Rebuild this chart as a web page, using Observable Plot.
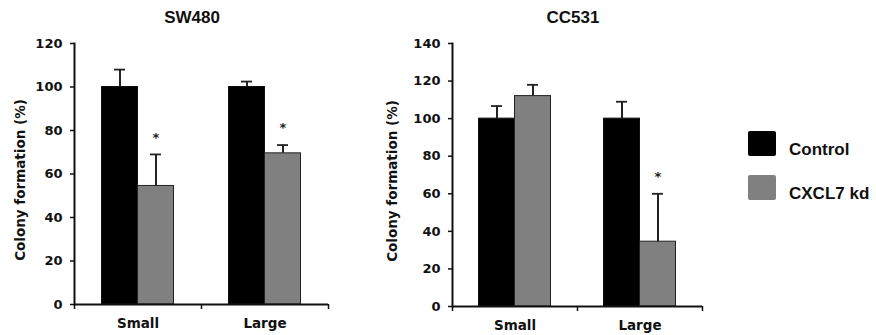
<!DOCTYPE html>
<html><head><meta charset="utf-8">
<script src="https://cdn.jsdelivr.net/npm/d3@7"></script>
<script src="https://cdn.jsdelivr.net/npm/@observablehq/plot@0.6"></script>
<style>
body{margin:0;background:#fff;font-family:"Liberation Sans",Arial,sans-serif;color:#111}
#wrap{position:relative;width:876px;height:335px;overflow:hidden}
.panel{position:absolute;top:0}
.title{position:absolute;font-weight:bold;font-size:17px;transform:translateX(-50%);top:8px;white-space:nowrap}
.sw{position:absolute;width:28px;height:25px;border-radius:2px;left:748px}
.lt{position:absolute;left:789px;font-weight:bold;font-size:17px;white-space:nowrap}
</style></head>
<body>
<div id="wrap">
  <div class="title" style="left:192px">SW480</div>
  <div class="title" style="left:573px">CC531</div>
  <div id="p1" class="panel" style="left:0px"></div>
  <div id="p2" class="panel" style="left:380px"></div>
  <div class="sw" style="top:131px;background:#000"></div>
  <div class="lt" style="top:140px">Control</div>
  <div class="sw" style="top:175px;background:#808080"></div>
  <div class="lt" style="top:184px">CXCL7 kd</div>
</div>
<script>
const groups = ["Small", "Large"];
const series = ["Control", "CXCL7 kd"];
const yLabel = "Colony formation (%)";

const sw480Control = [100, 100];
const sw480ControlErr = [8, 2.5];
const sw480Kd = [54.5, 69.5];
const sw480KdErr = [14.5, 3.8];
const sw480Sig = [true, true];
const sw480Ticks = [0, 20, 40, 60, 80, 100, 120];

const cc531Control = [100, 100];
const cc531ControlErr = [6.7, 9];
const cc531Kd = [112, 34.5];
const cc531KdErr = [6, 25.5];
const cc531Sig = [false, true];
const cc531Ticks = [0, 20, 40, 60, 80, 100, 120, 140];

const colors = {"Control": "#000000", "CXCL7 kd": "#808080"};
const axisFont = "'DejaVu Sans', sans-serif";

function makePanel(opts) {
  const {width, marginLeft, marginRight, marginTop, marginBottom, ticks, ctrl, ctrlErr, kd, kdErr, sig, labelDx} = opts;
  const rows = groups.flatMap((g, i) => [
    {group: g, series: series[0], value: ctrl[i], hi: ctrl[i] + ctrlErr[i], sig: false},
    {group: g, series: series[1], value: kd[i], hi: kd[i] + kdErr[i], sig: sig[i]}
  ]);
  const ctrlRows = rows.filter(d => d.series === series[0]);
  const kdRows = rows.filter(d => d.series === series[1]);
  const bw = (width - marginLeft - marginRight) / groups.length;
  const barW = 36, half = bw / 2, cap = 5.5;
  const yMax = ticks[ticks.length - 1];
  return Plot.plot({
    width, height: 335, marginLeft, marginRight, marginTop, marginBottom,
    style: {fontFamily: axisFont, fontWeight: "bold", fontSize: "13px", color: "#111", background: "transparent", overflow: "visible"},
    x: {domain: groups, padding: 0, axis: null},
    y: {domain: [0, yMax], axis: null},
    marks: [
      Plot.barY(ctrlRows, {x: "group", y: "value", fill: colors["Control"], stroke: "#111", strokeWidth: 1, insetLeft: half - barW, insetRight: half}),
      Plot.barY(kdRows, {x: "group", y: "value", fill: colors["CXCL7 kd"], stroke: "#222", strokeWidth: 1, insetLeft: half, insetRight: half - barW}),
      Plot.ruleX(ctrlRows, {x: "group", y1: "value", y2: "hi", dx: -barW / 2, stroke: "#222", strokeWidth: 2}),
      Plot.ruleX(kdRows, {x: "group", y1: "value", y2: "hi", dx: barW / 2, stroke: "#222", strokeWidth: 2}),
      Plot.tickY(ctrlRows, {x: "group", y: "hi", stroke: "#222", strokeWidth: 1.8, insetLeft: half - barW / 2 - cap, insetRight: half + barW / 2 - cap}),
      Plot.tickY(kdRows, {x: "group", y: "hi", stroke: "#222", strokeWidth: 1.8, insetLeft: half + barW / 2 - cap, insetRight: half - barW / 2 - cap}),
      Plot.text(kdRows.filter(d => d.sig), {x: "group", y: "hi", text: () => "*", dx: barW / 2, dy: -17, fontSize: 13, fill: "#222"}),
      Plot.axisY({ticks, tickSize: 4, tickPadding: 8, strokeWidth: 1.5, fontSize: 13, label: null}),
      Plot.text([yLabel], {text: d => d, frameAnchor: "left", textAnchor: "middle", rotate: -90, dx: labelDx, dy: 6, fontSize: 13.5, fill: "#111"}),
      Plot.axisX({tickSize: 0, tickPadding: 14, fontSize: 13.5, label: null}),
      Plot.frame({anchor: "left", strokeWidth: 2}),
      Plot.ruleY([0], {strokeWidth: 2}),
      Plot.ruleX(groups, {x: d => d, y1: 0, y2: 0, insetBottom: -5, dx: -half, strokeWidth: 1.5}),
      Plot.ruleX(groups.slice(-1), {x: d => d, y1: 0, y2: 0, insetBottom: -5, dx: half, strokeWidth: 1.5})
    ]
  });
}

document.getElementById("p1").append(makePanel({
  width: 340, marginLeft: 74, marginRight: 12, marginTop: 43, marginBottom: 31, labelDx: -54,
  ticks: sw480Ticks, ctrl: sw480Control, ctrlErr: sw480ControlErr, kd: sw480Kd, kdErr: sw480KdErr, sig: sw480Sig
}));
document.getElementById("p2").append(makePanel({
  width: 330, marginLeft: 72, marginRight: 8, marginTop: 43, marginBottom: 29, labelDx: -60,
  ticks: cc531Ticks, ctrl: cc531Control, ctrlErr: cc531ControlErr, kd: cc531Kd, kdErr: cc531KdErr, sig: cc531Sig
}));
</script>
</body></html>
